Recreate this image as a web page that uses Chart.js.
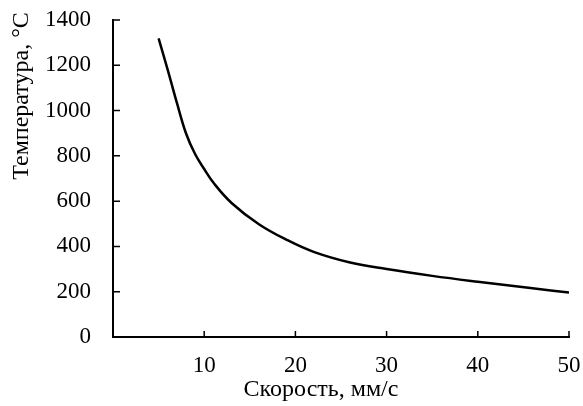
<!DOCTYPE html>
<html>
<head>
<meta charset="utf-8">
<script src="https://cdn.jsdelivr.net/npm/chart.js@4.4.0/dist/chart.umd.min.js"></script>
<style>
  html, body { margin: 0; padding: 0; background: #fff; }
  #wrap { width: 583px; height: 406px; }
</style>
</head>
<body>
<div id="wrap"><canvas id="myChart"></canvas></div>
<script>
// speed, mm/s
var speed = [5, 6, 7, 8, 9, 10, 11, 13, 16, 19, 22, 26, 30, 35, 40, 46, 50];
// temperature, °C
var temperature = [1319, 1180, 1035, 900, 808, 742, 682, 592, 498, 430, 376, 329, 300, 270, 244, 215, 196];

var xTitle = "Скорость, мм/с";
var yTitle = "Температура, °C";

var fontFamily = "'Liberation Serif', 'Times New Roman', serif";

var points = [];
for (var i = 0; i < speed.length; i++) {
    points.push({x: speed[i], y: temperature[i]});
}

// ticks pointing into the plot, and the axis titles
var innerTicks = {
    id: 'innerTicks',
    afterDraw: function(chart) {
        var ctx = chart.ctx;
        var area = chart.chartArea;
        var xs = chart.scales.x, ys = chart.scales.y;
        ctx.save();
        ctx.strokeStyle = '#000';
        ctx.lineWidth = 1.5;
        ctx.beginPath();
        xs.ticks.forEach(function(t) {
            if (t.value === 0) return;
            var px = xs.getPixelForValue(t.value);
            ctx.moveTo(px, area.bottom);
            ctx.lineTo(px, area.bottom - 6);
        });
        ys.ticks.forEach(function(t) {
            if (t.value === 0) return;
            var py = ys.getPixelForValue(t.value);
            ctx.moveTo(area.left, py);
            ctx.lineTo(area.left + 7, py);
        });
        ctx.stroke();

        ctx.fillStyle = '#000';
        ctx.font = "24px " + fontFamily;
        ctx.textAlign = 'center';
        ctx.textBaseline = 'middle';
        ctx.fillText(xTitle, 321, 390);
        ctx.translate(22, 96);
        ctx.rotate(-Math.PI / 2);
        ctx.fillText(yTitle, 0, 0);
        ctx.restore();
    }
};

var myChart = new Chart(document.getElementById('myChart').getContext('2d'), {
    type: 'line',
    data: {
        datasets: [{
            label: "Температура",
            data: points,
            borderColor: '#000',
            borderWidth: 2.5,
            pointRadius: 0,
            fill: false,
            tension: 0.4
        }]
    },
    options: {
        responsive: true,
        maintainAspectRatio: false,
        animation: false,
        layout: { padding: { top: 20, right: 14, left: 0, bottom: 0 } },
        plugins: {
            legend: { display: false },
            tooltip: { enabled: false }
        },
        scales: {
            x: {
                type: 'linear',
                min: 0,
                max: 50,
                grid: { display: false, drawTicks: false },
                border: { display: true, color: '#000', width: 2 },
                ticks: {
                    stepSize: 10,
                    color: '#000',
                    padding: 15,
                    maxRotation: 0,
                    font: { family: fontFamily, size: 23 },
                    callback: function(v) { return v === 0 ? null : String(v); }
                },
                afterFit: function(scale) {
                    scale.height = 69;
                    scale.paddingLeft = 0;
                    scale.paddingRight = 0;
                }
            },
            y: {
                min: 0,
                max: 1400,
                grid: { display: false, drawTicks: false },
                border: { display: true, color: '#000', width: 2 },
                ticks: {
                    stepSize: 200,
                    color: '#000',
                    padding: 22,
                    font: { family: fontFamily, size: 23 },
                    callback: function(v) { return String(v); }
                },
                afterFit: function(scale) {
                    scale.width = 113;
                    scale.paddingTop = 0;
                    scale.paddingBottom = 0;
                }
            }
        }
    },
    plugins: [innerTicks]
});
</script>
</body>
</html>
